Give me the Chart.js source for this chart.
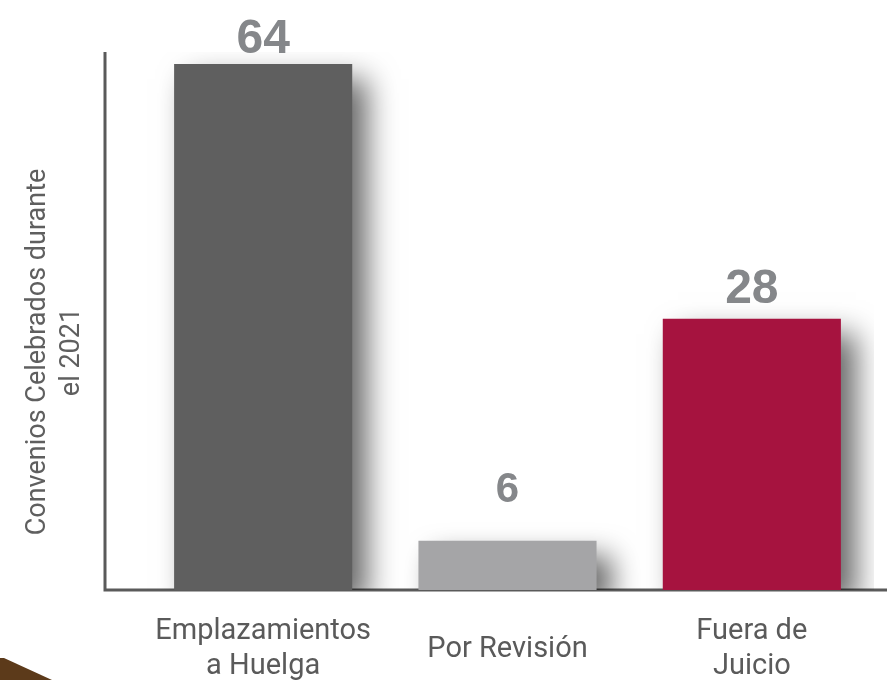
<!DOCTYPE html>
<html>
<head>
<meta charset="utf-8">
<script src="https://cdn.jsdelivr.net/npm/chart.js@4.4.1/dist/chart.umd.min.js"></script>
<style>
  html, body { margin: 0; padding: 0; background: #fff; }
  #wrap { width: 887px; height: 680px; position: relative; }
</style>
</head>
<body>
<div id="wrap"><canvas id="convChart"></canvas></div>
<script>
var categories  = [['Emplazamientos', 'a Huelga'], 'Por Revisión', ['Fuera de', 'Juicio']];
// bar heights (the third bar is drawn taller than its printed label)
var barValues   = [64, 6, 33];
var valueLabels = ['64', '6', '28'];
var barColors   = ['#5f5f5f', '#a5a5a7', '#a6133f'];
var axisTitle   = ['Convenios Celebrados durante', 'el 2021'];

var decorPlugin = {
    id: 'decor',
    beforeDatasetsDraw: function (chart) {
        var ctx = chart.ctx, a = chart.chartArea;
        var axisX = a.left - 36;
        ctx.save();
        // axis lines
        ctx.strokeStyle = '#5a5a5a';
        ctx.lineWidth = 3;
        ctx.beginPath();
        ctx.moveTo(axisX, a.top);
        ctx.lineTo(axisX, a.bottom);
        ctx.lineTo(chart.width, a.bottom);
        ctx.stroke();

        // brown corner shape
        ctx.fillStyle = '#5c3a1a';
        ctx.beginPath();
        ctx.moveTo(0, 658);
        ctx.lineTo(4, 658);
        ctx.lineTo(52, chart.height);
        ctx.lineTo(0, chart.height);
        ctx.closePath();
        ctx.fill();

        // y title
        ctx.fillStyle = '#5f5f5f';
        ctx.font = '27px Roboto';
        ctx.textAlign = 'center';
        ctx.textBaseline = 'middle';
        ctx.translate(38, 352);
        ctx.rotate(-Math.PI / 2);
        ctx.fillText(axisTitle[0], 0, 0);
        ctx.fillText(axisTitle[1], 0, 34);
        ctx.restore();

        // shadow for bars
        ctx.save();
        ctx.shadowColor = 'rgba(0,0,0,0.6)';
        ctx.shadowBlur = 28;
        ctx.shadowOffsetX = 15;
        ctx.shadowOffsetY = 15;
    },
    afterDatasetsDraw: function (chart) {
        var ctx = chart.ctx;
        ctx.restore();
        var meta = chart.getDatasetMeta(0);
        var gaps = [11, 39, 16];
        var sizes = [48, 42, 48];
        ctx.save();
        ctx.fillStyle = '#85878a';
        ctx.textAlign = 'center';
        ctx.textBaseline = 'alphabetic';
        meta.data.forEach(function (bar, i) {
            ctx.font = 'bold ' + sizes[i] + 'px "Liberation Sans", Arial, sans-serif';
            ctx.fillText(valueLabels[i], bar.x, bar.y - gaps[i]);
        });
        ctx.restore();
    }
};

new Chart(document.getElementById('convChart'), {
    type: 'bar',
    data: {
        labels: categories,
        datasets: [{
            data: barValues,
            backgroundColor: barColors,
            borderWidth: 0,
            barPercentage: 0.729,
            categoryPercentage: 1
        }]
    },
    options: {
        responsive: true,
        maintainAspectRatio: false,
        animation: false,
        layout: { padding: { left: 141, right: 13, top: 52, bottom: 0 } },
        plugins: {
            legend: { display: false },
            tooltip: { enabled: false }
        },
        scales: {
            x: {
                grid: { display: false },
                border: { display: false },
                ticks: {
                    color: '#5a5a5a',
                    font: { family: 'Roboto', size: 29, lineHeight: 1.2 },
                    padding: 34,
                    crossAlign: 'center',
                    maxRotation: 0,
                    autoSkip: false
                },
                afterFit: function (scale) { scale.height = 90; }
            },
            y: {
                display: false,
                min: 0,
                max: 65.46
            }
        }
    },
    plugins: [decorPlugin]
});
</script>
</body>
</html>
